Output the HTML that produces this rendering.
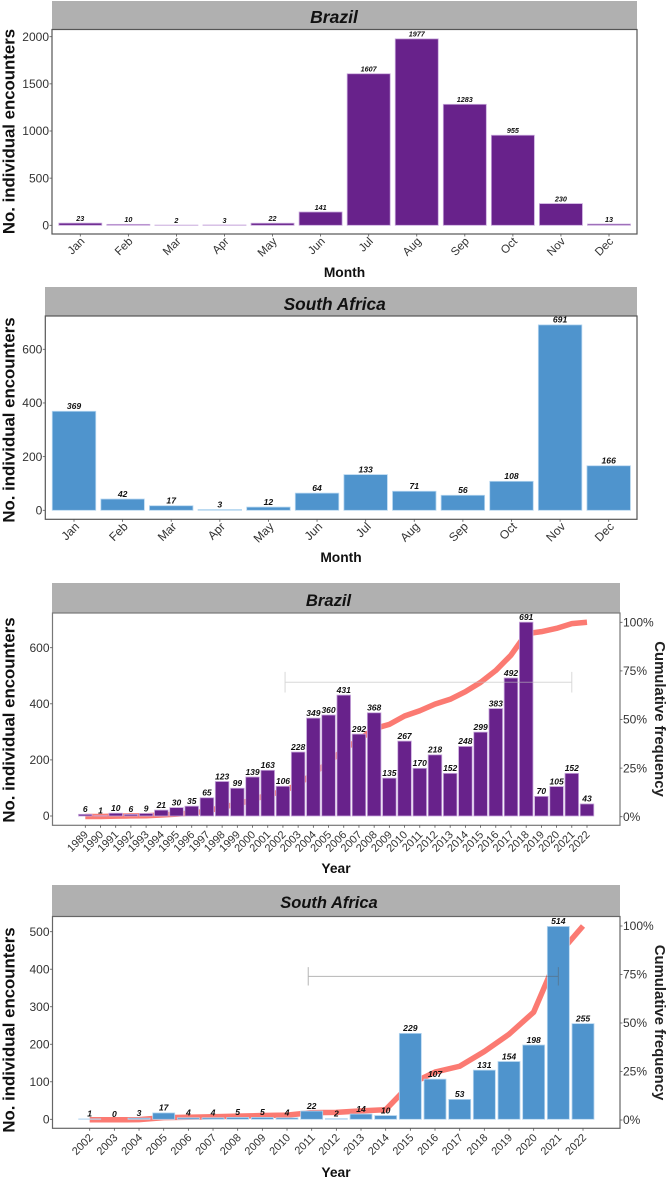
<!DOCTYPE html>
<html lang="en">
<head>
<meta charset="utf-8">
<title>Individual encounters by month and year</title>
<style>
html,body{margin:0;padding:0;background:#fff;}
svg{display:block;font-family:"Liberation Sans",Arial,sans-serif;}
.strip{fill:#b0b0b0;}
.strip-title{font-weight:bold;font-style:italic;fill:#111;text-anchor:middle;}
.axis-title{font-size:16.8px;font-weight:bold;fill:#111;text-anchor:middle;}
.x-title{font-size:13.8px;font-weight:bold;fill:#111;text-anchor:middle;}
.right-title{font-size:14.9px;font-weight:bold;fill:#222;text-anchor:middle;}
.frame{fill:none;stroke-width:1.2;}
.tick-label{font-size:12px;fill:#333;}
.value-label{font-weight:bold;font-style:italic;fill:#111;text-anchor:middle;}
</style>
</head>
<body>
<svg id="chart" width="668" height="1180" viewBox="0 0 668 1180" xmlns="http://www.w3.org/2000/svg">
  <rect width="668" height="1180" fill="#fff"/>

  <g id="p1">
    <rect class="strip" x="52" y="1" width="585" height="29"/>
    <text class="strip-title" font-size="17.5" x="334" y="23">Brazil</text>
    <text class="axis-title" transform="translate(14.5,131.5) rotate(-90)">No. individual encounters</text>
    <text class="x-title" x="344.5" y="277">Month</text>
  </g>

  <g id="p2">
    <rect class="strip" x="45" y="287" width="592" height="29"/>
    <text class="strip-title" font-size="17.3" x="334.7" y="310">South Africa</text>
    <text class="axis-title" transform="translate(14.5,420) rotate(-90)">No. individual encounters</text>
    <text class="x-title" x="341" y="562">Month</text>
  </g>

  <g id="p3">
    <rect class="strip" x="52" y="583" width="568" height="30"/>
    <text class="strip-title" font-size="16.6" x="328.5" y="606">Brazil</text>
    <text class="axis-title" transform="translate(14.5,720) rotate(-90)">No. individual encounters</text>
    <text class="x-title" x="336" y="873">Year</text>
    <text class="right-title" transform="translate(655,719) rotate(90)">Cumulative frequency</text>
  </g>

  <g id="p4">
    <rect class="strip" x="52" y="885" width="568" height="31"/>
    <text class="strip-title" font-size="16.5" x="329" y="908">South Africa</text>
    <text class="axis-title" transform="translate(14.5,1030) rotate(-90)">No. individual encounters</text>
    <text class="x-title" x="336" y="1177">Year</text>
    <text class="right-title" transform="translate(655,1022.5) rotate(90)">Cumulative frequency</text>
  </g>
</svg>

<script>
/* ---------- data ---------- */
var monthLabels = ['Jan','Feb','Mar','Apr','May','Jun','Jul','Aug','Sep','Oct','Nov','Dec'];

var brazilMonthValues = [23,10,2,3,22,141,1607,1977,1283,955,230,13];
var brazilMonthTicks = [0,500,1000,1500,2000];

var africaMonthValues = [369,42,17,3,12,64,133,71,56,108,691,166];
var africaMonthTicks = [0,200,400,600];

var brazilYears = ['1989','1990','1991','1992','1993','1994','1995','1996','1997','1998','1999','2000','2001','2002','2003','2004','2005','2006','2007','2008','2009','2010','2011','2012','2013','2014','2015','2016','2017','2018','2019','2020','2021','2022'];
var brazilYearValues = [6,1,10,6,9,21,30,35,65,123,99,139,163,106,228,349,360,431,292,368,135,267,170,218,152,248,299,383,492,691,70,105,152,43];
var brazilCumulative = [0.1,0.1,0.3,0.4,0.5,0.9,1.3,1.9,2.9,4.9,6.5,8.7,11.3,13,16.6,22.2,27.9,34.8,39.5,45.3,47.5,51.8,54.5,57.9,60.4,64.3,69.1,75.2,83.1,94.1,95.2,96.9,99.3,100];
var brazilYearTicks = [0,200,400,600];
var brazilRange = [2002.14,2021];
var brazilRangeLevel = [477];

var africaYears = ['2002','2003','2004','2005','2006','2007','2008','2009','2010','2011','2012','2013','2014','2015','2016','2017','2018','2019','2020','2021','2022'];
var africaYearValues = [1,0,3,17,4,4,5,5,4,22,2,14,10,229,107,53,131,154,198,514,255];
var africaCumulative = [0.1,0.1,0.2,1.2,1.4,1.7,2,2.3,2.5,3.8,3.9,4.7,5.3,18.5,24.7,27.7,35.3,44.2,55.6,85.3,100];
var africaYearTicks = [0,100,200,300,400,500];
var africaRange = [2010.86,2021];
var africaRangeLevel = [381];

var percentTicks = [0,25,50,75,100];

/* ---------- helpers ---------- */
var SVGNS = 'http://www.w3.org/2000/svg';
function mk(parent, tag, attrs, text) {
  var el = document.createElementNS(SVGNS, tag);
  for (var k in attrs) { el.setAttribute(k, attrs[k]); }
  if (text !== undefined) { el.textContent = text; }
  parent.appendChild(el);
  return el;
}

function drawPanel(cfg) {
  var g = document.getElementById(cfg.id);
  var n = cfg.categories.length;
  function xPos(i) { return cfg.xFirst + i * (cfg.xLast - cfg.xFirst) / (n - 1); }
  function yPos(v) { return cfg.y0 - (v / cfg.refValue) * (cfg.y0 - cfg.yRef); }
  function yPct(p) { return cfg.pct0 - (p / 100) * (cfg.pct0 - cfg.pct100); }

  var frame = mk(g, 'rect', {'class':'frame', stroke:cfg.frameColor, x:cfg.left, y:cfg.top, width:cfg.right-cfg.left, height:cfg.bottom-cfg.top});
  
  

  if (cfg.cumulative) {
    var pts = [];
    for (var c = 0; c < cfg.cumulative.length; c++) {
      pts.push(xPos(c).toFixed(2) + ',' + yPct(cfg.cumulative[c]).toFixed(2));
    }
    var line = mk(g, 'polyline', {points:pts.join(' '), fill:'none', stroke:'#fb7a72', 'stroke-width':5.5, 'stroke-linejoin':'round'});
    
    
  }

  for (var i = 0; i < n; i++) {
    var top = yPos(cfg.values[i]);
    var bar = mk(g, 'rect', {x:xPos(i)-cfg.barWidth/2, y:top, width:cfg.barWidth, height:Math.max(cfg.y0-top,0), fill:cfg.fill, stroke:cfg.edge, 'stroke-width':0.8});
    
    

    var val = mk(g, 'text', {'class':'value-label', x:xPos(i), y:top-2.2, 'font-size':cfg.valueSize}, String(cfg.values[i]));
    
    

    var tick = mk(g, 'line', {x1:xPos(i), x2:xPos(i), y1:cfg.bottom, y2:cfg.bottom+2.5, stroke:'#555', 'stroke-width':0.8});
    
    

    var ax = xPos(i) + cfg.labelDx, ay = cfg.bottom + cfg.labelDy;
    var lab = mk(g, 'text', {'class':'tick-label', 'text-anchor':'end', style:'font-size:'+cfg.xLabelSize+'px', transform:'translate('+ax+','+ay+') rotate(-45)'}, cfg.categories[i]);
    
    
  }

  for (var t = 0; t < cfg.ticks.length; t++) {
    var ty = yPos(cfg.ticks[t]);
    var yt = mk(g, 'line', {x1:cfg.left-2.5, x2:cfg.left, y1:ty, y2:ty, stroke:'#555', 'stroke-width':0.8});
    
    

    var yl = mk(g, 'text', {'class':'tick-label', 'text-anchor':'end', x:cfg.left-3, y:ty+4.2}, String(cfg.ticks[t]));
    
    
  }

  if (cfg.cumulative) {
    for (var p = 0; p < percentTicks.length; p++) {
      var py = yPct(percentTicks[p]);
      var rt = mk(g, 'line', {x1:cfg.right, x2:cfg.right+2.5, y1:py, y2:py, stroke:'#555', 'stroke-width':0.8});
      
      

      var rl = mk(g, 'text', {'class':'tick-label', 'text-anchor':'start', x:cfg.right+3, y:py+4.2}, percentTicks[p] + '%');
      
      
    }

    var firstYear = parseInt(cfg.categories[0], 10);
    var x1 = xPos(cfg.range[0] - firstYear), x2 = xPos(cfg.range[1] - firstYear), ey = yPos(cfg.rangeLevel[0]);
    var eb = mk(g, 'path', {d:'M'+x1+' '+(ey-cfg.capHalf)+'V'+(ey+cfg.capHalf)+'M'+x1+' '+ey+'H'+x2+'M'+x2+' '+(ey-cfg.capHalf)+'V'+(ey+cfg.capHalf), fill:'none', stroke:cfg.rangeColor, 'stroke-width':cfg.rangeWidth});
    
    
  }
}

/* ---------- panels ---------- */
drawPanel({id:'p1', name:'brazil-month', categories:monthLabels, values:brazilMonthValues, ticks:brazilMonthTicks,
  left:52, right:637, top:29.5, bottom:234, xFirst:80.3, xLast:609, barWidth:43, y0:225.3, refValue:2000, yRef:36.7,
  fill:'#68228b', edge:'#c8a8dc', frameColor:'#555', valueSize:7.2, xLabelSize:11.5, labelDx:5, labelDy:8});

drawPanel({id:'p2', name:'south-africa-month', categories:monthLabels, values:africaMonthValues, ticks:africaMonthTicks,
  left:45.3, right:637, top:316, bottom:519.3, xFirst:74, xLast:608.7, barWidth:43.5, y0:510.3, refValue:600, yRef:349.3,
  fill:'#4f94cd', edge:'#b5d6f0', frameColor:'#555', valueSize:8.6, xLabelSize:12, labelDx:6, labelDy:8});

drawPanel({id:'p3', name:'brazil-year', categories:brazilYears, values:brazilYearValues, ticks:brazilYearTicks,
  left:52.5, right:620, top:613, bottom:825.3, xFirst:85.3, xLast:587, barWidth:13.6, y0:816, refValue:600, yRef:647.7,
  fill:'#68228b', edge:'#c8a8dc', frameColor:'#777', valueSize:8.5, xLabelSize:11, labelDx:3.5, labelDy:10,
  cumulative:brazilCumulative, pct0:816.7, pct100:622.3, range:brazilRange, rangeLevel:brazilRangeLevel,
  capHalf:10.3, rangeColor:'rgba(190,190,190,0.6)', rangeWidth:1});

drawPanel({id:'p4', name:'south-africa-year', categories:africaYears, values:africaYearValues, ticks:africaYearTicks,
  left:52.5, right:620, top:916.5, bottom:1128.3, xFirst:89.7, xLast:583, barWidth:22, y0:1119.3, refValue:500, yRef:931.7,
  fill:'#4f94cd', edge:'#b5d6f0', frameColor:'#666', valueSize:8.6, xLabelSize:11, labelDx:4, labelDy:10,
  cumulative:africaCumulative, pct0:1120, pct100:926, range:africaRange, rangeLevel:africaRangeLevel,
  capHalf:9.2, rangeColor:'rgba(90,90,90,0.45)', rangeWidth:1});
</script>
</body>
</html>
